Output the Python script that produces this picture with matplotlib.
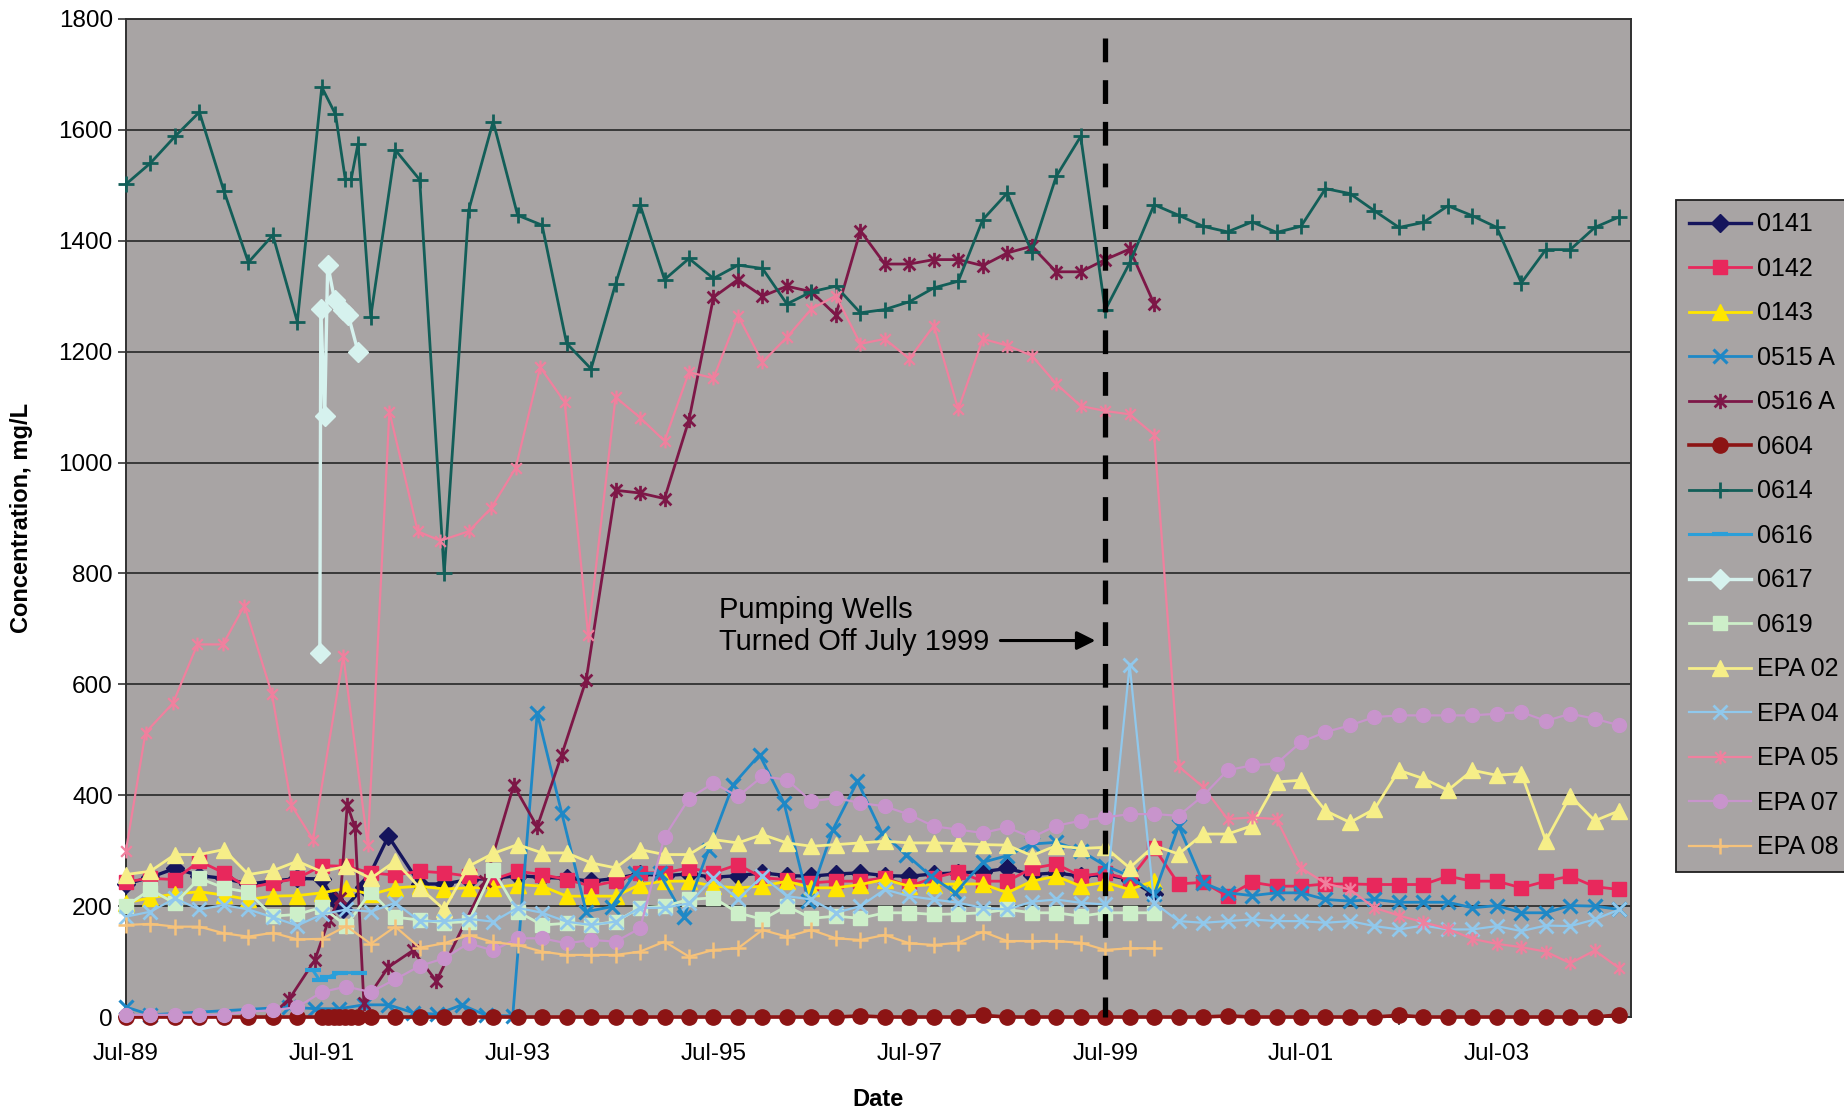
import matplotlib
matplotlib.use("Agg")
import matplotlib.pyplot as plt
from matplotlib.path import Path

plt.rcParams["font.family"] = ["Liberation Sans", "DejaVu Sans"]

# sampling dates as decimal years (quarterly)
QUARTERS = [
    1989.50, 1989.75, 1990.00, 1990.25, 1990.50, 1990.75, 1991.00, 1991.25,
    1991.50, 1991.75, 1992.00, 1992.25, 1992.50, 1992.75, 1993.00, 1993.25,
    1993.50, 1993.75, 1994.00, 1994.25, 1994.50, 1994.75, 1995.00, 1995.25,
    1995.50, 1995.75, 1996.00, 1996.25, 1996.50, 1996.75, 1997.00, 1997.25,
    1997.50, 1997.75, 1998.00, 1998.25, 1998.50, 1998.75, 1999.00, 1999.25,
    1999.50, 1999.75, 2000.00, 2000.25, 2000.50, 2000.75, 2001.00, 2001.25,
    2001.50, 2001.75, 2002.00, 2002.25, 2002.50, 2002.75, 2003.00, 2003.25,
    2003.50, 2003.75, 2004.00, 2004.25, 2004.50, 2004.75,
]

X_0141 = [1989.5, 1989.75, 1990.0, 1990.25, 1990.5, 1990.75, 1991.0, 1991.25,
          1991.5, 1991.62, 1991.72, 1991.93, 1992.18, 1992.5, 1992.75, 1993.0] + QUARTERS[15:43]
Y_0141 = [240, 252, 268, 255, 250, 240, 245, 250, 249, 212, 194, 235, 326, 240, 240, 248,
          250, 255, 252, 250, 245, 250, 258, 255, 258, 252, 255, 260, 255, 254,
          258, 260, 255, 254, 258, 260, 262, 268, 257, 260, 254, 257, 248, 221]

X_0142 = QUARTERS
Y_0142 = [244, 250, 248, 281, 260, 233, 242, 250, 273, 272,
          260, 256, 263, 260, 254, 248, 263, 257, 248, 236,
          245, 260, 260, 269, 260, 275, 251, 248, 242, 245,
          245, 251, 236, 251, 262, 245, 245, 268, 276, 254,
          260, 248, 305, 240, 243, 218, 243, 236, 236, 240,
          240, 239, 239, 239, 254, 245, 245, 233, 245, 254,
          235, 230]

X_0143 = QUARTERS[0:43]
Y_0143 = [206, 215, 222, 226, 220, 212, 218, 219, 224, 232,
          221, 233, 236, 231, 233, 233, 239, 236, 218, 218,
          218, 239, 245, 245, 236, 233, 236, 245, 233, 233,
          239, 248, 236, 239, 240, 240, 224, 245, 254, 236,
          243, 230, 245]

X_0515A = [1989.5, 1989.75, 1991.17, 1991.43, 1991.68, 1991.93, 1992.18, 1992.43, 1992.68,
           1992.93, 1993.18, 1993.45, 1993.7, 1993.95, 1994.2, 1994.46, 1994.7, 1994.95,
           1995.2, 1995.45, 1995.7, 1995.97, 1996.22, 1996.47, 1996.72, 1996.97, 1997.22,
           1997.47, 1997.72, 1997.97] + QUARTERS[35:62]
Y_0515A = [18, 4, 18, 15, 15, 22, 22, 8, 5, 22, 3, 2, 548, 368, 190, 199, 259, 259,
           181, 302, 419, 473, 386, 209, 338, 425, 332, 293, 254, 224,
           279, 291, 312, 315, 300, 273, 254, 221, 345, 242, 224, 219, 224, 224,
           212, 209, 212, 207, 207, 207, 197, 201, 188, 188, 201, 200, 194]

X_0516A = [1991.0, 1991.17, 1991.43, 1991.57, 1991.69, 1991.76, 1991.84, 1991.93,
           1992.18, 1992.43, 1992.67, 1993.17, 1993.46, 1993.7, 1993.95, 1994.2] + QUARTERS[20:43]
Y_0516A = [5, 33, 103, 175, 215, 383, 341, 25, 90, 120, 65, 245, 418, 343, 473, 608,
           950, 945, 935, 1077, 1298, 1330, 1300, 1318, 1308, 1266,
           1418, 1358, 1358, 1366, 1366, 1355, 1378, 1390, 1344, 1344,
           1366, 1385, 1286]

X_0604 = QUARTERS[0:9] + [1991.56, 1991.62, 1991.68, 1991.74, 1991.8, 1991.87] + QUARTERS[10:62]
Y_0604 = [0, 0, 0, 0, 0, 0, 0, 0, 0,
          0, 0, 0, 0, 0, 0,
          0, 0, 0, 0, 0, 0, 0, 0, 0, 0,
          0, 0, 0, 0, 0, 0, 0, 0, 0, 0,
          2, 0, 0, 0, 0, 3, 0, 0, 0, 0,
          0, 0, 0, 0, 0, 2, 0, 0, 0, 0,
          0, 0, 3, 0, 0, 0, 0, 0, 0, 0,
          0, 4]

X_0614 = [1989.5, 1989.75, 1990.0, 1990.25, 1990.5, 1990.75, 1991.0, 1991.25,
          1991.5, 1991.64, 1991.74, 1991.8, 1991.87] + QUARTERS[10:62]
Y_0614 = [1502, 1540, 1588, 1632, 1490, 1361, 1410, 1254, 1677, 1628, 1511, 1511, 1575,
          1263, 1564, 1510, 800, 1455, 1615, 1446, 1428, 1215, 1169, 1322, 1465,
          1330, 1368, 1332, 1356, 1350, 1286, 1308, 1318, 1270, 1276, 1290, 1315,
          1327, 1438, 1486, 1380, 1516, 1588, 1275, 1360, 1465, 1446, 1426, 1416,
          1434, 1415, 1426, 1494, 1485, 1454, 1424, 1433, 1463, 1445, 1424, 1324,
          1384, 1384, 1424, 1443]

X_0616 = [1991.41, 1991.48, 1991.56, 1991.69, 1991.88]
Y_0616 = [84, 66, 72, 80, 80]

X_0617 = [1991.48, 1991.49, 1991.53, 1991.56, 1991.63, 1991.72, 1991.77, 1991.87]
Y_0617 = [657, 1277, 1084, 1357, 1294, 1275, 1266, 1200]

X_0619 = QUARTERS[0:43]
Y_0619 = [200, 230, 205, 250, 233, 225, 182, 185, 198, 165,
          226, 180, 175, 170, 172, 265, 190, 166, 169, 166,
          172, 197, 200, 212, 215, 188, 176, 200, 178, 182,
          178, 188, 188, 185, 186, 188, 194, 188, 188, 182,
          188, 188, 188]

X_EPA02 = QUARTERS
Y_EPA02 = [257, 263, 293, 293, 302, 257, 264, 281, 262, 272,
           250, 281, 233, 194, 272, 295, 311, 296, 296, 278,
           269, 302, 293, 293, 320, 314, 329, 314, 308, 311,
           314, 317, 314, 314, 313, 311, 310, 291, 309, 304,
           306, 269, 309, 294, 330, 330, 345, 424, 427, 372,
           351, 375, 445, 430, 409, 445, 436, 439, 318, 399,
           354, 372]

X_EPA04 = QUARTERS
Y_EPA04 = [181, 190, 214, 194, 202, 194, 180, 165, 185, 194,
           190, 206, 173, 173, 177, 172, 197, 188, 172, 166,
           172, 197, 197, 205, 251, 212, 254, 218, 212, 188,
           200, 230, 218, 212, 206, 197, 194, 208, 212, 206,
           203, 635, 206, 173, 170, 173, 176, 173, 173, 170,
           173, 164, 158, 165, 158, 158, 164, 155, 165, 164,
           176, 194]

X_EPA05 = [1989.5, 1989.7, 1989.98, 1990.23, 1990.49, 1990.71, 1990.99, 1991.19, 1991.41,
           1991.72, 1991.97, 1992.19, 1992.48, 1992.71, 1993.0, 1993.23, 1993.48, 1993.73,
           1993.98, 1994.22] + QUARTERS[20:62]
Y_EPA05 = [300, 513, 566, 672, 672, 742, 583, 382, 320, 651, 310, 1092, 876, 859, 876,
           918, 990, 1172, 1109, 689,
           1118, 1081, 1039, 1163, 1152, 1265, 1181, 1226, 1277, 1301,
           1214, 1223, 1187, 1247, 1096, 1223, 1211, 1193, 1142, 1102,
           1093, 1087, 1050, 452, 415, 357, 360, 357, 269, 241,
           230, 197, 183, 171, 159, 141, 132, 126, 118, 97,
           120, 88]

X_EPA07 = QUARTERS
Y_EPA07 = [4, 4, 4, 4, 4, 10, 12, 18, 45, 55,
           45, 68, 92, 106, 133, 120, 142, 142, 133, 139,
           136, 160, 325, 394, 422, 398, 434, 428, 389, 395,
           386, 380, 365, 344, 338, 332, 342, 324, 345, 354,
           360, 366, 366, 363, 399, 445, 454, 457, 496, 514,
           526, 541, 544, 544, 544, 544, 547, 550, 534, 547,
           538, 526]

X_EPA08 = QUARTERS[0:43]
Y_EPA08 = [166, 168, 163, 163, 151, 145, 152, 140, 141, 164,
           132, 163, 125, 133, 148, 135, 130, 118, 112, 112,
           112, 118, 136, 109, 121, 124, 157, 145, 157, 142,
           139, 148, 133, 130, 134, 154, 137, 137, 137, 134,
           121, 124, 124]

# Excel style asterisk marker: an X with a vertical bar
ASTERISK = Path([(-1, -1), (1, 1), (-1, 1), (1, -1), (0, -1.3), (0, 1.3)],
                [Path.MOVETO, Path.LINETO, Path.MOVETO, Path.LINETO,
                 Path.MOVETO, Path.LINETO])

# label, x, y, color, marker, markersize, marker edge width, line width
SERIES = [
    ("0141", X_0141, Y_0141, "#15155C", "D", 9, 1, 2.4),
    ("0142", X_0142, Y_0142, "#E8285C", "s", 10, 1, 2.0),
    ("0143", X_0143, Y_0143, "#FFE600", "^", 11, 1, 2.0),
    ("0515 A", X_0515A, Y_0515A, "#1E88C6", "x", 10, 2.2, 2.0),
    ("0516 A", X_0516A, Y_0516A, "#7D1747", ASTERISK, 11, 2.0, 2.0),
    ("0604", X_0604, Y_0604, "#8C1414", "o", 11, 1, 2.6),
    ("0614", X_0614, Y_0614, "#125E58", "+", 12, 2.0, 2.0),
    ("0616", X_0616, Y_0616, "#2B9FD9", "_", 12, 3.0, 2.2),
    ("0617", X_0617, Y_0617, "#D6F2EE", "D", 10, 1, 2.4),
    ("0619", X_0619, Y_0619, "#CDEFC9", "s", 10, 1, 2.0),
    ("EPA 02", X_EPA02, Y_EPA02, "#F6EE88", "^", 11, 1, 2.0),
    ("EPA 04", X_EPA04, Y_EPA04, "#90C8EC", "x", 10, 2.0, 1.6),
    ("EPA 05", X_EPA05, Y_EPA05, "#F0809E", ASTERISK, 10, 1.6, 1.6),
    ("EPA 07", X_EPA07, Y_EPA07, "#C894CC", "o", 10, 1, 1.6),
    ("EPA 08", X_EPA08, Y_EPA08, "#F6C27A", "+", 11, 1.8, 1.6),
]

TICK_YEARS = [1989.5, 1991.5, 1993.5, 1995.5, 1997.5, 1999.5, 2001.5, 2003.5]
TICK_LABELS = ["Jul-89", "Jul-91", "Jul-93", "Jul-95", "Jul-97", "Jul-99", "Jul-01", "Jul-03"]
SHUTOFF = 1999.5

BG = "#A8A4A4"

fig = plt.figure(figsize=(18.44, 11.08), dpi=100)
ax = fig.add_axes([0.0683, 0.0821, 0.8162, 0.9008])
ax.set_facecolor(BG)

for i, (label, xs, ys, color, marker, ms, mew, lw) in enumerate(SERIES):
    ax.plot(xs, ys, color=color, lw=lw, marker=marker, markersize=ms,
            markerfacecolor=color, markeredgecolor=color, markeredgewidth=mew,
            label=label, zorder=3 + i * 0.1, clip_on=False)

# pumping shut-off marker
ax.plot([SHUTOFF, SHUTOFF], [1765, 0], color="black", lw=3.8,
        dashes=(4.5, 3.4), zorder=6, dash_capstyle="butt", clip_on=False)
ax.annotate("", xy=(1999.40, 679), xytext=(1998.43, 679),
            arrowprops=dict(arrowstyle="-|>", color="black", lw=2.2,
                            mutation_scale=28, shrinkA=0, shrinkB=0), zorder=7)
ax.text(1995.56, 705, "Pumping Wells\nTurned Off July 1999", fontsize=21,
        ha="left", va="center", linespacing=1.15, zorder=7)

ax.set_xlim(1989.5, 2004.87)
ax.set_ylim(0, 1800)
ax.set_yticks(range(0, 1801, 200))
ax.set_xticks(TICK_YEARS)
ax.set_xticklabels(TICK_LABELS)
ax.set_xticks([1990.5, 1992.5, 1994.5, 1996.5, 1998.5, 2000.5, 2002.5, 2004.5], minor=True)
ax.tick_params(axis="both", labelsize=17.5, length=6, width=1.2, color="#333333")
ax.tick_params(axis="x", which="minor", length=6, width=1.2, color="#333333")
ax.tick_params(axis="x", pad=13)
ax.grid(axis="y", color="#303030", lw=1.3)
ax.set_axisbelow(True)
for sp in ax.spines.values():
    sp.set_color("#303030")
    sp.set_linewidth(1.4)

ax.set_xlabel("Date", fontsize=17, fontweight="bold", labelpad=16)
ax.set_ylabel("Concentration, mg/L", fontsize=17, fontweight="bold", labelpad=18)

leg = ax.legend(loc="upper left", bbox_to_anchor=(0.9089, 0.8195),
                bbox_transform=fig.transFigure, borderaxespad=0,
                fontsize=18, frameon=True, fancybox=False, framealpha=1,
                facecolor=BG, edgecolor="#202020", labelspacing=0.82,
                handlelength=2.5, handletextpad=0.25, borderpad=0.5)
leg.get_frame().set_linewidth(1.3)

fig.savefig("out.png", dpi=100, facecolor="white")
